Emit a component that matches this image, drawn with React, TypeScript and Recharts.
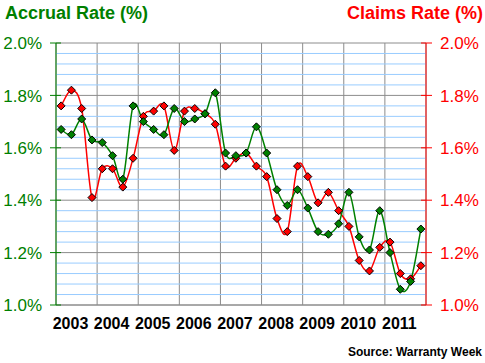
import { LineChart, Line, XAxis, YAxis, CartesianGrid, ReferenceLine } from "recharts"

// quarterly values, 2003 Q1 .. 2011 Q4
const accrualRate = [
  1.67, 1.65, 1.71, 1.63, 1.62, 1.57, 1.48, 1.76,
  1.70, 1.67, 1.65, 1.75, 1.70, 1.71, 1.73, 1.81,
  1.58, 1.57, 1.58, 1.68, 1.58, 1.44, 1.38, 1.44,
  1.37, 1.28, 1.27, 1.31, 1.43, 1.26, 1.21, 1.36,
  1.20, 1.06, 1.09, 1.29,
]
const claimsRate = [
  1.76, 1.82, 1.75, 1.41, 1.52, 1.52, 1.45, 1.56,
  1.72, 1.74, 1.76, 1.59, 1.74, 1.75, 1.73, 1.69,
  1.53, 1.56, 1.58, 1.53, 1.49, 1.33, 1.28, 1.53,
  1.49, 1.39, 1.43, 1.36, 1.30, 1.17, 1.13, 1.22,
  1.24, 1.12, 1.10, 1.15,
]
const years = ["2003", "2004", "2005", "2006", "2007", "2008", "2009", "2010", "2011"]
const yTicks = [1.0, 1.2, 1.4, 1.6, 1.8, 2.0]
const minorLines = [
  1.04, 1.08, 1.12, 1.16, 1.24, 1.28, 1.32, 1.36, 1.44, 1.48,
  1.52, 1.56, 1.64, 1.68, 1.72, 1.76, 1.84, 1.88, 1.92, 1.96,
]
const yearTicks = [0, 4, 8, 12, 16, 20, 24, 28, 32, 36]

const data = accrualRate.map((a, i) => ({ q: i + 0.5, accrual: a, claims: claimsRate[i] }))

const GREEN = "#008000"
const RED = "#ff0000"
const FONT = "Arial, 'Liberation Sans', sans-serif"

// excel-ish smoothed line (catmull-rom through the points)
const smooth = (context: any) => {
  let pts: number[][] = []
  return {
    areaStart() {},
    areaEnd() {},
    lineStart() { pts = [] },
    point(x: number, y: number) { pts.push([+x, +y]) },
    lineEnd() {
      if (!pts.length) return
      context.moveTo(pts[0][0], pts[0][1])
      for (let i = 0; i < pts.length - 1; i++) {
        const p0 = pts[i - 1] || pts[i]
        const p1 = pts[i]
        const p2 = pts[i + 1]
        const p3 = pts[i + 2] || p2
        context.bezierCurveTo(
          p1[0] + (p2[0] - p0[0]) / 6, p1[1] + (p2[1] - p0[1]) / 6,
          p2[0] - (p3[0] - p1[0]) / 6, p2[1] - (p3[1] - p1[1]) / 6,
          p2[0], p2[1]
        )
      }
    },
  }
}

const diamond = (fill: string) => (props: any) => {
  const { cx, cy, index } = props
  const r = 4
  return (
    <polygon
      key={`d-${index}`}
      points={`${cx},${cy - r} ${cx + r},${cy} ${cx},${cy + r} ${cx - r},${cy}`}
      fill={fill}
      stroke="#000"
      strokeWidth={1}
    />
  )
}

const LeftTick = ({ x, y, payload }: any) => (
  <g>
    <line x1={x - 6} x2={x + 5} y1={y} y2={y} stroke={GREEN} />
    <text x={x - 14} y={y} dy="0.36em" textAnchor="end" fill={GREEN} fontSize={17} fontFamily={FONT}>
      {payload.value.toFixed(1)}%
    </text>
  </g>
)

const RightTick = ({ x, y, payload }: any) => (
  <g>
    <line x1={x - 5} x2={x + 6} y1={y} y2={y} stroke={RED} />
    <text x={x + 14} y={y} dy="0.36em" textAnchor="start" fill={RED} fontSize={17} fontFamily={FONT}>
      {payload.value.toFixed(1)}%
    </text>
  </g>
)

const YearTick = ({ x, y, payload }: any) => {
  const label = years[payload.value / 4]
  if (!label) return <g />
  return (
    <text x={x + 14.5} y={y + 24} textAnchor="middle" fill="#000" fontSize={16} fontWeight="bold" fontFamily={FONT}>
      {label}
    </text>
  )
}

export default function App() {
  return (
    <div style={{ position: "absolute", left: 0, top: 0, width: 485, height: 363, background: "#fff" }}>
      <LineChart width={485} height={363} data={data} margin={{ top: 43, right: 0, left: 0, bottom: 28 }}>
        {minorLines.map((v) => (
          <ReferenceLine key={v} yAxisId="left" y={v} stroke="#99ccff" strokeWidth={1} />
        ))}
        <CartesianGrid yAxisId="left" stroke="#8c8c8c" strokeWidth={1} />
        <XAxis
          type="number"
          dataKey="q"
          domain={[0, 36]}
          ticks={yearTicks}
          interval={0}
          height={30}
          tickSize={0}
          tickMargin={0}
          tickLine={false}
          axisLine={{ stroke: "#8c8c8c" }}
          tick={<YearTick />}
        />
        <YAxis
          yAxisId="left"
          orientation="left"
          width={56}
          domain={[1, 2]}
          ticks={yTicks}
          interval={0}
          tickSize={0}
          tickMargin={0}
          tickLine={false}
          axisLine={{ stroke: GREEN }}
          tick={<LeftTick />}
        />
        <YAxis
          yAxisId="right"
          orientation="right"
          width={59}
          domain={[1, 2]}
          ticks={yTicks}
          interval={0}
          tickSize={0}
          tickMargin={0}
          tickLine={false}
          axisLine={{ stroke: RED }}
          tick={<RightTick />}
        />
        <Line
          yAxisId="right"
          dataKey="claims"
          type={smooth as any}
          stroke={RED}
          strokeWidth={1.5}
          dot={diamond(RED)}
          isAnimationActive={false}
        />
        <Line
          yAxisId="left"
          dataKey="accrual"
          type={smooth as any}
          stroke={GREEN}
          strokeWidth={1.5}
          dot={diamond(GREEN)}
          isAnimationActive={false}
        />
      </LineChart>
      <svg width={485} height={363} style={{ position: "absolute", left: 0, top: 0, pointerEvents: "none" }}>
        <text x={5} y={18.5} fill={GREEN} fontSize={18} fontWeight="bold" fontFamily={FONT}>
          Accrual Rate (%)
        </text>
        <text x={483} y={18.5} textAnchor="end" fill={RED} fontSize={18} fontWeight="bold" fontFamily={FONT}>
          Claims Rate (%)
        </text>
        <text x={482} y={356} textAnchor="end" fill="#000" fontSize={12} fontWeight="bold" fontFamily={FONT}>
          Source: Warranty Week
        </text>
      </svg>
    </div>
  )
}
